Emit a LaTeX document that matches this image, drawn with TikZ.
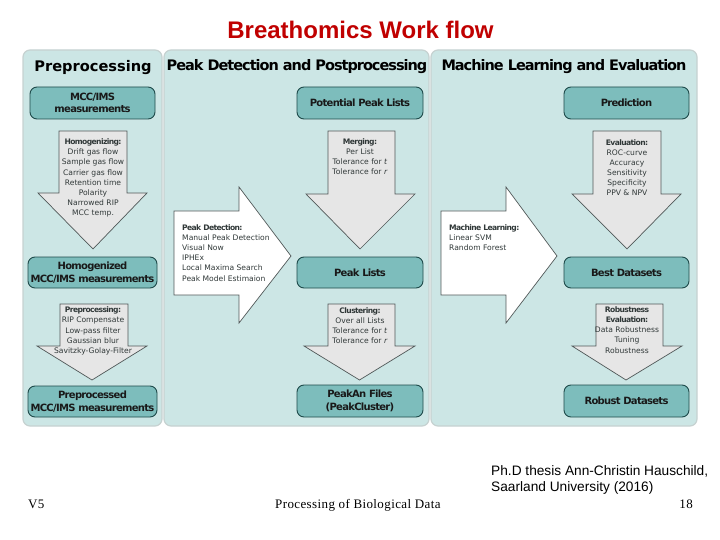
\documentclass[tikz,border=0pt]{standalone}
\usepackage{fontspec}
\setmainfont{DejaVu Sans}
\newfontfamily\arialf{Liberation Sans}
\newfontfamily\timesf[LetterSpace=3]{Liberation Serif}
\newfontfamily\tightf[LetterSpace=-7]{DejaVu Sans}
\newfontfamily\notebf[LetterSpace=-8]{DejaVu Sans Bold}
\newcommand{\nb}[1]{{\notebf #1}}
\definecolor{panelfill}{HTML}{CCE6E5}
\definecolor{panelline}{HTML}{C6D2D1}
\definecolor{boxfill}{HTML}{7DBDBC}
\definecolor{boxline}{HTML}{1E4A4A}
\definecolor{arrowfill}{HTML}{E6E6E6}
\definecolor{arrowline}{HTML}{505858}
\definecolor{inktext}{HTML}{303838}
\tikzset{
  panel/.style={draw=panelline,line width=1.2pt,fill=panelfill,rounded corners=7pt,inner sep=0pt},
  flowbox/.style={draw=boxline,line width=0.9pt,fill=boxfill,rounded corners=7pt,inner sep=0pt,align=center,
    font=\tightf\fontsize{10}{13}\selectfont\bfseries,text=black!90},
  head/.style={inner sep=0pt,font=\tightf\fontsize{14.5}{16}\selectfont\bfseries,text=black},
  downarrow/.style={draw=arrowline,line width=0.7pt,fill=arrowfill},
  rightarrow/.style={draw=arrowline,line width=0.7pt,fill=white},
  note/.style={inner sep=0pt,align=center,text=inktext,font=\fontsize{7.6}{10.1}\selectfont},
  leftnote/.style={note,align=left},
  foot/.style={inner sep=0pt,font=\timesf\fontsize{13}{14}\selectfont,text=black}
}
\newcommand{\downshape}[7]{% xl xr top shoulder headl headr tip
  \draw[downarrow] (#1,#3) -- (#2,#3) -- (#2,#4) -- (#6,#4) -- (#7,249) -- (#5,#4) -- (#1,#4) -- cycle;}
\begin{document}
\begin{tikzpicture}[x=1pt,y=-1pt]
\useasboundingbox (0,0) rectangle (720,540);
% title
\node[inner sep=0pt,font=\arialf\fontsize{24}{26}\selectfont\bfseries,text={rgb,255:red,192;green,0;blue,0}] (title) at (360.5,30) {Breathomics Work flow};
% panels
\node[panel,minimum width=139pt,minimum height=376pt] (p1) at (92.5,238) {};
\node[panel,minimum width=265pt,minimum height=376pt] (p2) at (296.5,238) {};
\node[panel,minimum width=266pt,minimum height=376pt] (p3) at (564,238) {};
% headers
\node[head,font=\fontsize{14.6}{16}\selectfont\bfseries] (h1) at (93,68) {Preprocessing};
\node[head] (h2) at (297,67) {Peak Detection and Postprocessing};
\node[head] (h3) at (564,67) {Machine Learning and Evaluation};
% boxes
\node[flowbox,minimum width=125pt,minimum height=32pt,font=\tightf\fontsize{10}{11.5}\selectfont\bfseries] (b11) at (92.5,103) {MCC/IMS\\measurements};
\node[flowbox,minimum width=129pt,minimum height=31pt] (b12) at (92.5,272.5) {Homogenized\\MCC/IMS measurements};
\node[flowbox,minimum width=129pt,minimum height=31pt] (b13) at (92.5,401.5) {Preprocessed\\MCC/IMS measurements};
\node[flowbox,minimum width=126pt,minimum height=32pt] (b21) at (360,103) {Potential Peak Lists};
\node[flowbox,minimum width=126pt,minimum height=31pt] (b22) at (360,272.5) {Peak Lists};
\node[flowbox,minimum width=126pt,minimum height=32pt] (b23) at (360,401) {PeakAn Files\\(PeakCluster)};
\node[flowbox,minimum width=125pt,minimum height=32pt] (b31) at (626.5,103) {Prediction};
\node[flowbox,minimum width=125pt,minimum height=31pt] (b32) at (626.5,272.5) {Best Datasets};
\node[flowbox,minimum width=125pt,minimum height=32pt] (b33) at (626.5,401) {Robust Datasets};
% down arrows
\downshape{59}{127}{131}{193}{38}{147}{93}
\draw[downarrow] (60,304) -- (128,304) -- (128,346) -- (147,346) -- (92,380) -- (37,346) -- (60,346) -- cycle;
\downshape{328}{395}{131}{194}{306}{415}{360}
\draw[downarrow] (328,304) -- (395,304) -- (395,346) -- (415,346) -- (359.5,380) -- (304,346) -- (328,346) -- cycle;
\downshape{593}{661}{131}{194}{572}{681}{627}
\draw[downarrow] (596,304) -- (663,304) -- (663,346) -- (682,346) -- (626,380) -- (572,346) -- (596,346) -- cycle;
% right arrows
\draw[rightarrow] (174,211) -- (239,211) -- (239,187) -- (291,256) -- (239,323) -- (239,295) -- (174,295) -- cycle;
\draw[rightarrow] (441,211) -- (506,211) -- (506,187) -- (557,256) -- (506,323) -- (506,295) -- (441,295) -- cycle;
% notes
\node[note] (n1) at (93,178) {\nb{Homogenizing:}\\Drift gas flow\\Sample gas flow\\Carrier gas flow\\Retention time\\Polarity\\Narrowed RIP\\MCC temp.};
\node[note] (n2) at (93,331) {\nb{Preprocessing:}\\RIP Compensate\\Low-pass filter\\Gaussian blur\\Savitzky-Golay-Filter};
\node[note] (n3) at (360,157) {\nb{Merging:}\\Per List\\Tolerance for \textit{t}\\Tolerance for \textit{r}};
\node[note] (n4) at (360,326) {\nb{Clustering:}\\Over all Lists\\Tolerance for \textit{t}\\Tolerance for \textit{r}};
\node[note] (n5) at (627,167.5) {\nb{Evaluation:}\\ROC-curve\\Accuracy\\Sensitivity\\Specificity\\PPV \& NPV};
\node[note] (n6) at (627,330) {\nb{Robustness}\\\nb{Evaluation:}\\Data Robustness\\Tuning\\Robustness};
\node[leftnote,anchor=west] (n7) at (182,253) {\nb{Peak Detection:}\\Manual Peak Detection\\Visual Now\\IPHEx\\Local Maxima Search\\Peak Model Estimaion};
\node[leftnote,anchor=west] (n8) at (449,238) {\nb{Machine Learning:}\\Linear SVM\\Random Forest};
% footer
\node[foot,anchor=base west] (f1) at (28,508.5) {V5};
\node[foot,anchor=base west] (f2) at (275,508.5) {Processing of Biological Data};
\node[foot,anchor=base east] (f3) at (693,508.5) {18};
\node[inner sep=0pt,anchor=north west,align=left,font=\arialf\fontsize{13.7}{16}\selectfont] (f4) at (491,465) {Ph.D thesis Ann-Christin Hauschild,\\Saarland University (2016)};
\end{tikzpicture}
\end{document}
